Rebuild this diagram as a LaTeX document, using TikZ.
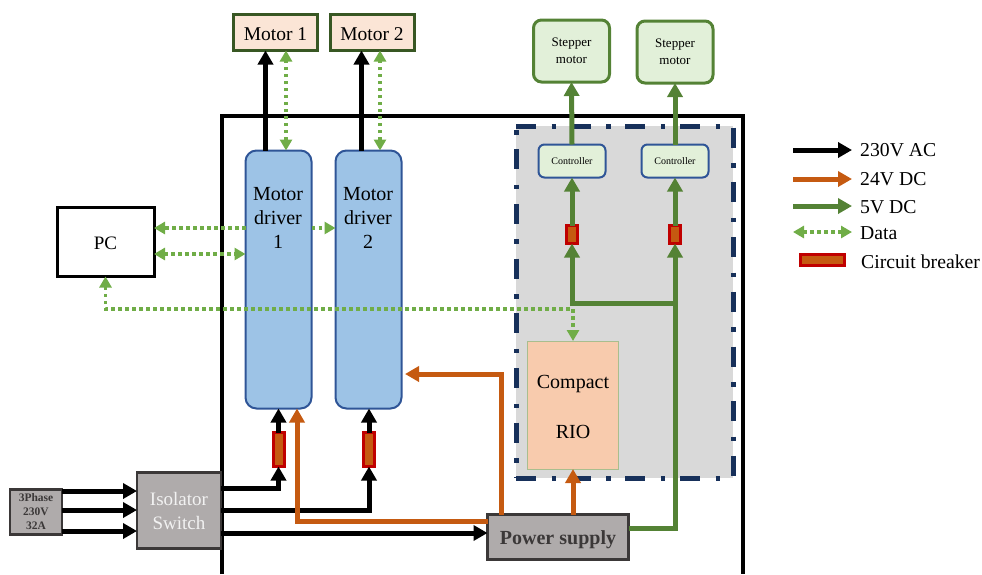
\documentclass[tikz,border=0pt]{standalone}
\usepackage{fontspec}
\setmainfont{Liberation Serif}
\usetikzlibrary{arrows.meta}
\definecolor{dcorange}{HTML}{C55A11}
\definecolor{dcgreen}{HTML}{548235}
\definecolor{datagreen}{HTML}{70AD47}
\definecolor{boxblue}{HTML}{2F5597}
\definecolor{rackblue}{HTML}{17305A}
\definecolor{darkgray}{HTML}{3B3838}
\definecolor{motorgreen}{HTML}{385723}
\definecolor{motorfill}{HTML}{FBE5D6}
\definecolor{stepfill}{HTML}{E2F0D9}
\definecolor{driverfill}{HTML}{9DC3E6}
\definecolor{riofill}{HTML}{F8CBAD}
\definecolor{rioedge}{HTML}{A9BE8E}
\definecolor{boxgray}{HTML}{AFABAB}
\definecolor{rackgray}{HTML}{D9D9D9}
\definecolor{brkred}{HTML}{C00000}
\newcommand{\lowertext}[2]{\raisebox{-#1}[\height][\depth]{#2}}
\tikzset{
  box/.style={draw, inner sep=0pt, outer sep=0pt, align=center},
  motorbox/.style={box, draw=motorgreen, line width=3pt, fill=motorfill, minimum width=84pt, minimum height=36pt, font=\fontsize{19.5}{22}\selectfont},
  stepperbox/.style={box, draw=dcgreen, line width=3pt, fill=stepfill, rounded corners=8pt, minimum width=76pt, minimum height=62pt, font=\fontsize{13}{17}\selectfont},
  controlbox/.style={box, draw=boxblue, line width=2pt, fill=stepfill, rounded corners=6pt, minimum width=67pt, minimum height=33pt, font=\fontsize{10}{11}\selectfont},
  driverbox/.style={box, draw=boxblue, line width=2pt, fill=driverfill, rounded corners=11pt, minimum width=66pt, minimum height=258pt},
  graybox/.style={box, draw=darkgray, line width=2.5pt, fill=boxgray},
  breaker/.style={box, draw=brkred, line width=3pt, fill=dcorange},
  boxtext/.style={inner sep=0pt, align=center, font=\fontsize{20}{24}\selectfont},
  legendlabel/.style={inner sep=0pt, anchor=west, font=\fontsize{19.7}{22}\selectfont},
  acline/.style={draw=black, line width=5pt, -{Triangle[length=14pt,width=15pt]}},
  dcline/.style={draw=dcorange, line width=5pt, -{Triangle[length=14pt,width=15pt]}},
  fiveline/.style={draw=dcgreen, line width=5pt, -{Triangle[length=14pt,width=15pt]}},
  dataline/.style={draw=datagreen, line width=3.5pt, dash pattern=on 3.5pt off 3.5pt, {Triangle[length=11pt,width=12pt]}-{Triangle[length=11pt,width=12pt]}},
  datato/.style={draw=datagreen, line width=3.5pt, dash pattern=on 3.5pt off 3.5pt, -{Triangle[length=11pt,width=12pt]}},
  rackline/.style={draw=rackblue, line width=5pt, dash pattern=on 20pt off 15.5pt on 4.5pt off 14.7pt}
}
\begin{document}
\begin{tikzpicture}[x=1pt,y=-1pt]
  \useasboundingbox (0,0) rectangle (982,574);

  \node[box, draw=none, fill=rackgray, minimum width=217pt, minimum height=352pt] (rack) at (624.5,302) {}; % gray panel
  \draw[line width=4.5pt, black] (222,574) -- (222,116) -- (743,116) -- (743,574); % cabinet

  \draw[rackline] (rack.north west) -- (rack.north east);
  \draw[rackline, dash phase=53pt] (rack.north east) -- (rack.south east);
  \draw[rackline] (rack.south west) -- (rack.south east);
  \draw[rackline, dash phase=31.5pt] (rack.north west) -- (rack.south west);

  \node[motorbox] (motorA) at (275.5,32.5) {\lowertext{2pt}{Motor 1}};
  \node[motorbox] (motorB) at (372,32.5) {\lowertext{2pt}{Motor 2}};
  \node[stepperbox] (stepA) at (571.5,51) {Stepper\\motor};
  \node[stepperbox] (stepB) at (675,52) {Stepper\\motor};
  \node[controlbox] (ctrlA) at (572,161) {Controller};
  \node[controlbox] (ctrlB) at (675,161) {Controller};
  \node[breaker, minimum width=11pt, minimum height=18pt] (brkC) at (572,234.5) {};
  \node[breaker, minimum width=11pt, minimum height=18pt] (brkD) at (675,234.5) {};
  \node[driverbox] (driverA) at (278.5,279.5) {};
  \node[driverbox] (driverB) at (368.5,279.5) {};
  \node[breaker, minimum width=11pt, minimum height=34pt] (brkA) at (278.5,449.5) {};
  \node[breaker, minimum width=11pt, minimum height=34pt] (brkB) at (369,449.5) {};
  \node[box, draw=black, line width=3pt, minimum width=97pt, minimum height=69pt, font=\fontsize{19}{22}\selectfont] (pc) at (105.5,242) {\lowertext{1.5pt}{PC}};
  \node[box, draw=rioedge, line width=.8pt, fill=riofill, minimum width=91pt, minimum height=128pt] (rio) at (573,405) {};
  \node[graybox, minimum width=141pt, minimum height=45pt, text=darkgray, font=\bfseries\fontsize{20}{22}\selectfont] (psu) at (558,537) {\lowertext{3pt}{Power supply}};
  \node[graybox, minimum width=84pt, minimum height=76pt, text=white!95!black, font=\fontsize{19}{24}\selectfont] (iso) at (179,510.5) {Isolator\\Switch};
  \node[graybox, minimum width=52pt, minimum height=45pt, text=darkgray, font=\bfseries\fontsize{11.5}{14}\selectfont] (supply) at (36,512) {3Phase\\230V\\32A};

  \node[boxtext, anchor=north] (textA) at (278,187.5) {Motor\\driver\\1};
  \node[boxtext, anchor=north] (textB) at (368,187.5) {Motor\\driver\\2};
  \node[boxtext] (textC) at (573,384) {Compact};
  \node[boxtext] (textD) at (573,432) {RIO};

  % 230V lines
  \coordinate (acA) at (265.5,0);
  \coordinate (acB) at (361.5,0);
  \draw[acline] (driverA.north -| acA) -- (motorA.south -| acA);
  \draw[acline] (driverB.north -| acB) -- (motorB.south -| acB);
  \coordinate (inA) at (0,491);
  \coordinate (inB) at (0,510);
  \coordinate (inC) at (0,531);
  \draw[acline] (supply.east |- inA) -- (iso.west |- inA);
  \draw[acline] (supply.east |- inB) -- (iso.west |- inB);
  \draw[acline] (supply.east |- inC) -- (iso.west |- inC);
  \coordinate (outA) at (0,488);
  \coordinate (outB) at (0,510.5);
  \coordinate (outC) at (0,533);
  \draw[acline] (iso.east |- outA) -| (brkA.south);
  \draw[acline] (iso.east |- outB) -| (brkB.south);
  \draw[acline] (iso.east |- outC) -- (psu.west |- outC);
  \draw[acline] (brkA.north) -- (brkA.north |- driverA.south);
  \draw[acline] (brkB.north) -- (brkB.north |- driverB.south);

  % 24V lines
  \coordinate (dcA) at (297,521);
  \coordinate (dcB) at (501,374);
  \coordinate (dcC) at (405,374);
  \draw[dcline] (psu.west |- dcA) -| (dcA |- driverA.south);
  \draw[dcline] (psu.north -| dcB) |- (dcC);
  \draw[dcline] (psu.north -| rio.south) -- (rio.south);

  % 5V lines
  \coordinate (fiveA) at (0,528);
  \coordinate (fiveB) at (0,303);
  \draw[fiveline] (psu.east |- fiveA) -| (brkD.south);
  \draw[fiveline] (brkD.south |- fiveB) -| (brkC.south);
  \draw[fiveline] (brkC.north) -- (ctrlA.south);
  \draw[fiveline] (brkD.north) -- (ctrlB.south);
  \draw[fiveline] (ctrlA.north) -- (stepA.south);
  \draw[fiveline] (ctrlB.north) -- (stepB.south);

  % data lines
  \coordinate (dataA) at (286,0);
  \coordinate (dataB) at (380,0);
  \draw[dataline] (driverA.north -| dataA) -- (motorA.south -| dataA);
  \draw[dataline] (driverB.north -| dataB) -- (motorB.south -| dataB);
  \coordinate (dataC) at (0,228);
  \coordinate (dataD) at (0,254);
  \coordinate (dataE) at (0,309);
  \draw[datato] (driverA.west |- dataC) -- (pc.east |- dataC);
  \draw[datato] (driverA.east |- dataC) -- (driverB.west |- dataC);
  \draw[dataline] (pc.east |- dataD) -- (driverA.west |- dataD);
  \draw[dataline] (pc.south) |- (rio.north |- dataE) -- (rio.north);

  % legend
  \coordinate (keyL) at (793,0);
  \coordinate (keyR) at (852,0);
  \coordinate (keyA) at (0,150);
  \coordinate (keyB) at (0,179);
  \coordinate (keyC) at (0,206);
  \coordinate (keyD) at (0,232);
  \draw[acline] (keyL |- keyA) -- (keyR |- keyA);
  \draw[dcline] (keyL |- keyB) -- (keyR |- keyB);
  \draw[fiveline] (keyL |- keyC) -- (keyR |- keyC);
  \draw[dataline] (keyL |- keyD) -- (keyR |- keyD);
  \node[breaker, minimum width=44pt, minimum height=11pt] (keyE) at (822.5,260) {};
  \node[legendlabel] (labelA) at (860,150) {230V AC};
  \node[legendlabel] (labelB) at (860,179) {24V DC};
  \node[legendlabel] (labelC) at (860,207) {5V DC};
  \node[legendlabel] (labelD) at (860,233) {Data};
  \node[legendlabel] (labelE) at (861,262) {Circuit breaker};
\end{tikzpicture}
\end{document}
